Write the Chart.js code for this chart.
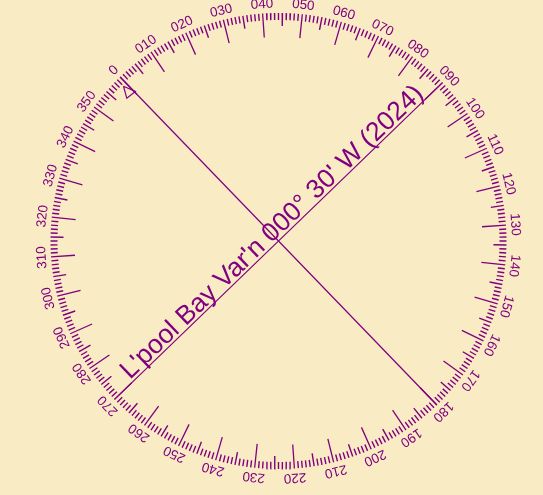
<!DOCTYPE html>
<html>
<head>
<meta charset="utf-8">
<script src="https://cdn.jsdelivr.net/npm/chart.js@4"></script>
<style>
  html, body { margin: 0; padding: 0; background: #f9ebc3; }
  canvas { display: block; }
</style>
</head>
<body>
<canvas id="compass" width="543" height="495"></canvas>
<script>
// bearings that carry a number, and the text written there
const labelBearings = [0, 10, 20, 30, 40, 50, 60, 70, 80, 90, 100, 110, 120, 130, 140, 150, 160, 170,
  180, 190, 200, 210, 220, 230, 240, 250, 260, 270, 280, 290, 300, 310, 320, 330, 340, 350];
const tickLabels = ['0', '010', '020', '030', '040', '050', '060', '070', '080', '090', '100', '110',
  '120', '130', '140', '150', '160', '170', '180', '190', '200', '210', '220', '230', '240', '250',
  '260', '270', '280', '290', '300', '310', '320', '330', '340', '350'];
// the two diameters drawn across the card
const diameters = [[0, 180], [90, 270]];
const markerBearing = 0;
const titleText = "L'pool Bay Var'n 000\u00b0 30' W (2024)";

const purple = '#800080';
const W = 543, H = 495;
const CX = 278.5, CY = 241, RPX = 228;   // card centre and outer ring radius in px
const ROT = -44;                          // card rotation, degrees

function polar(b, r) {
  const a = (b + ROT) * Math.PI / 180;
  return { x: r * Math.sin(a), y: r * Math.cos(a) };
}

// degree ring
const shortTicks = [], midTicks = [], longTicks = [];
for (let b = 0; b < 360; b++) {
  let list = shortTicks, len = 7;
  if (b % 10 === 0) { list = longTicks; len = 24; }
  else if (b % 5 === 0) { list = midTicks; len = 13; }
  list.push(polar(b, 1), polar(b, 1 - len / RPX), { x: null, y: null });
}

const diameterPts = [];
diameters.forEach(function (d) {
  diameterPts.push(polar(d[0], 1), polar(d[1], 1), { x: null, y: null });
});

// little triangle next to north, given as (radial, sideways) px
function local(b, u, v) {
  const a = (b + ROT) * Math.PI / 180;
  return { x: (u * Math.sin(a) + v * Math.cos(a)) / RPX, y: (u * Math.cos(a) - v * Math.sin(a)) / RPX };
}
const trianglePts = [
  local(markerBearing, 219, -4),
  local(markerBearing, 208, -10),
  local(markerBearing, 207, 1),
  local(markerBearing, 219, -4)
];

const textPlugin = {
  id: 'cardText',
  beforeDraw: function (chart) {
    const c = chart.ctx;
    c.save();
    c.fillStyle = '#f9ebc3';
    c.fillRect(0, 0, chart.width, chart.height);
    c.restore();
  },
  afterDatasetsDraw: function (chart) {
    const c = chart.ctx, xs = chart.scales.x, ys = chart.scales.y;
    c.save();
    c.fillStyle = purple;
    c.textAlign = 'center';
    c.textBaseline = 'middle';
    c.font = '13.5px "Liberation Sans", Arial, sans-serif';
    labelBearings.forEach(function (b, i) {
      const p = polar(b, 237 / RPX);
      c.save();
      c.translate(xs.getPixelForValue(p.x), ys.getPixelForValue(p.y));
      c.rotate((b + ROT) * Math.PI / 180);
      c.fillText(tickLabels[i], 0, 0);
      c.restore();
    });
    // title along the 270-090 line
    c.save();
    c.translate(xs.getPixelForValue(0), ys.getPixelForValue(0));
    c.rotate(ROT * Math.PI / 180);
    c.font = '26.5px "Liberation Sans", Arial, sans-serif';
    c.textBaseline = 'alphabetic';
    c.fillText(titleText, 1.5, -3);
    c.restore();
    c.restore();
  }
};

function lineSet(data, width) {
  return {
    data: data,
    borderColor: purple,
    borderWidth: width,
    pointRadius: 0,
    fill: false,
    spanGaps: false,
    tension: 0
  };
}

new Chart(document.getElementById('compass'), {
  type: 'line',
  data: {
    datasets: [
      lineSet(shortTicks, 1.4),
      lineSet(midTicks, 1.4),
      lineSet(longTicks, 1.3),
      lineSet(diameterPts, 1.2),
      lineSet(trianglePts, 1.2)
    ]
  },
  options: {
    responsive: false,
    animation: false,
    events: [],
    layout: { padding: 0 },
    plugins: { legend: { display: false }, tooltip: { enabled: false } },
    scales: {
      x: { type: 'linear', display: false, min: -CX / RPX, max: (W - CX) / RPX },
      y: { type: 'linear', display: false, min: -(H - CY) / RPX, max: CY / RPX }
    }
  },
  plugins: [textPlugin]
});
</script>
</body>
</html>
